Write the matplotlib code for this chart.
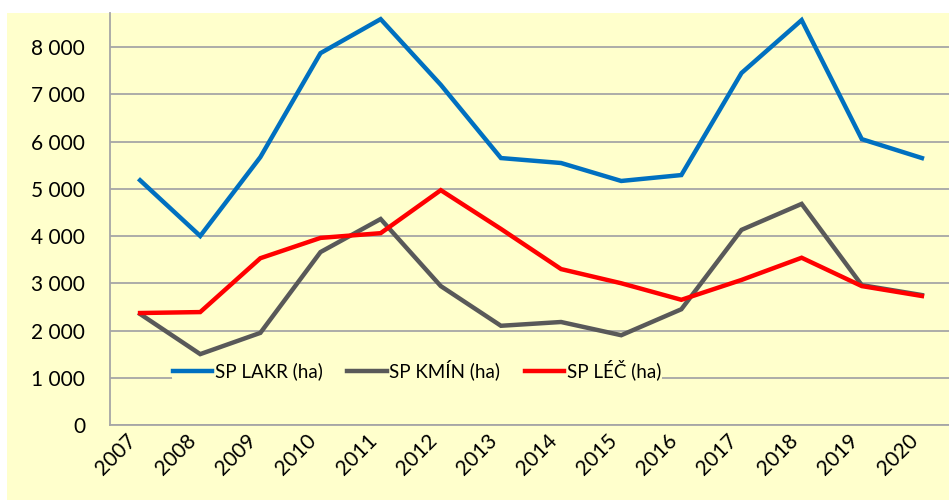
import matplotlib.pyplot as plt
from matplotlib.patches import Rectangle
from matplotlib.ticker import FuncFormatter
from matplotlib.transforms import ScaledTranslation

years = ["2007", "2008", "2009", "2010", "2011", "2012", "2013",
         "2014", "2015", "2016", "2017", "2018", "2019", "2020"]
lakr = [5180, 4000, 5670, 7870, 8590, 7200, 5650, 5545, 5165, 5290, 7450, 8570, 6050, 5650]
kmin = [2350, 1500, 1950, 3660, 4360, 2940, 2100, 2180, 1900, 2450, 4130, 4680, 2960, 2750]
lec = [2370, 2390, 3530, 3960, 4060, 4970, 4150, 3300, 3000, 2650, 3070, 3540, 2940, 2730]

bg = "#FFFFCC"
plt.rcParams['font.family'] = ['Lato', 'DejaVu Sans']

fig = plt.figure(figsize=(9.49, 5.0), dpi=100, facecolor="white")
fig.patches.append(Rectangle((7 / 949, 0), 1, 1 - 13 / 500, transform=fig.transFigure,
                             facecolor=bg, edgecolor="none", zorder=-10))

ax = fig.add_axes([110 / 949, 75 / 500, 842 / 949, 412 / 500])
ax.set_facecolor(bg)

x = range(len(years))
ax.plot(x, lakr, color="#0070C0", lw=3.2, label="SP LAKR (ha)", solid_joinstyle="miter")
ax.plot(x, kmin, color="#595959", lw=3.2, label="SP KMÍN (ha)", solid_joinstyle="miter")
ax.plot(x, lec, color="#FF0000", lw=3.2, label="SP LÉČ (ha)", solid_joinstyle="miter")

ax.set_xlim(-0.5, len(years) - 0.5)
ax.set_ylim(0, 8720)
ax.set_yticks(range(0, 9000, 1000))
ax.yaxis.set_major_formatter(FuncFormatter(lambda v, p: f"{int(v):,}".replace(",", " ")))
ax.set_xticks(list(x))
ax.set_xticklabels(years, rotation=45, ha="right")
shift = ScaledTranslation(5 / 100, -3 / 100, fig.dpi_scale_trans)
for lbl in ax.get_xticklabels():
    lbl.set_transform(lbl.get_transform() + shift)

ax.grid(axis="y", color="#A6A6A6", lw=1.3)
ax.set_axisbelow(True)
for s in ["top", "right"]:
    ax.spines[s].set_visible(False)
for s in ["left", "bottom"]:
    ax.spines[s].set_color("#A6A6A6")
    ax.spines[s].set_linewidth(1.3)
ax.tick_params(length=0, labelsize=15, colors="black")
ax.tick_params(axis="y", pad=18)
ax.tick_params(axis="x", pad=4)

leg = ax.legend(loc="center", bbox_to_anchor=(417 / 949, 1 - 370 / 500), bbox_transform=fig.transFigure,
                ncol=3, frameon=True, facecolor=bg, edgecolor="none", framealpha=1,
                fontsize=13.5, handlelength=2.1, handletextpad=0.15, columnspacing=1.3,
                borderpad=0.05)
leg.set_zorder(1.5)

fig.savefig("out.png", dpi=100, facecolor="white")
